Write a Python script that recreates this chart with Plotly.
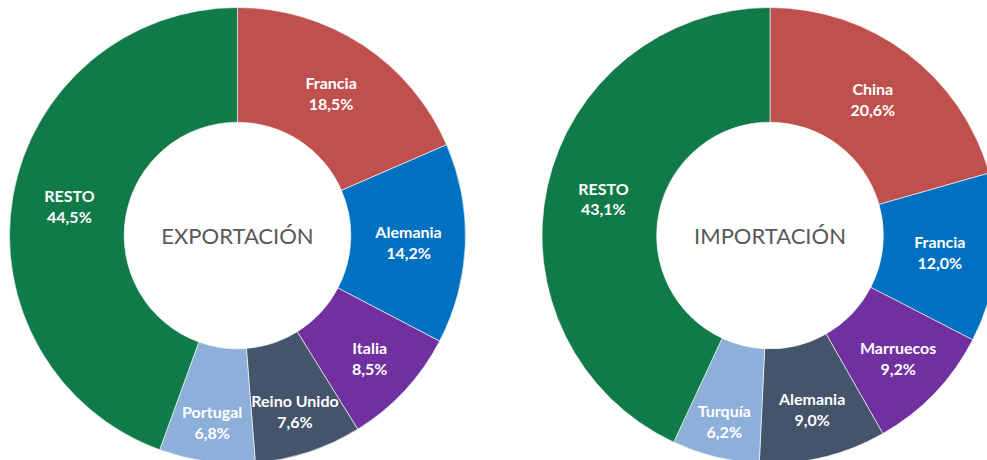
import plotly.graph_objects as go

# Data
exp_labels = ["Francia", "Alemania", "Italia", "Reino Unido", "Portugal", "RESTO"]
exp_values = [18.5, 14.2, 8.5, 7.6, 6.8, 44.5]
imp_labels = ["China", "Francia", "Marruecos", "Alemania", "Turquía", "RESTO"]
imp_values = [20.6, 12.0, 9.2, 9.0, 6.2, 43.1]
slice_colors = ["#C0504D", "#0070C0", "#7030A0", "#44546A", "#8DB0DA", "#107A48"]
titles = ["EXPORTACIÓN", "IMPORTACIÓN"]

W, H = 1000, 470
R = 228
cy_top = 235.5


def dom(cx):
    yc = H - cy_top
    return dict(x=[(cx - R) / W, (cx + R) / W], y=[(yc - R) / H, (yc + R) / H])


fig = go.Figure()
for labels, values, title, cx in [
    (exp_labels, exp_values, titles[0], 237.5),
    (imp_labels, imp_values, titles[1], 770),
]:
    fig.add_trace(go.Pie(
        labels=labels,
        values=values,
        sort=False,
        direction="clockwise",
        rotation=0,
        hole=0.497,
        domain=dom(cx),
        marker=dict(colors=slice_colors, line=dict(color="white", width=0.6)),
        texttemplate="%{label}<br>%{value:.1f}%",
        textposition="inside",
        insidetextorientation="horizontal",
        insidetextfont=dict(family="Lato", size=16, color="white", weight="bold"),
        title=dict(text=title, position="middle center",
                   font=dict(family="Lato", size=22, color="#595959", weight=400)),
        hoverinfo="skip",
        showlegend=False,
    ))

fig.update_layout(
    width=W, height=H,
    margin=dict(l=0, r=0, t=0, b=0),
    paper_bgcolor="white",
    plot_bgcolor="white",
    separators=",.",
    uniformtext=dict(minsize=16, mode="show"),
)

fig.write_html(
    "out.html",
    config={"displayModeBar": False},
    post_script="document.body.style.margin='0';document.body.style.overflow='hidden';document.documentElement.style.overflow='hidden';",
)
